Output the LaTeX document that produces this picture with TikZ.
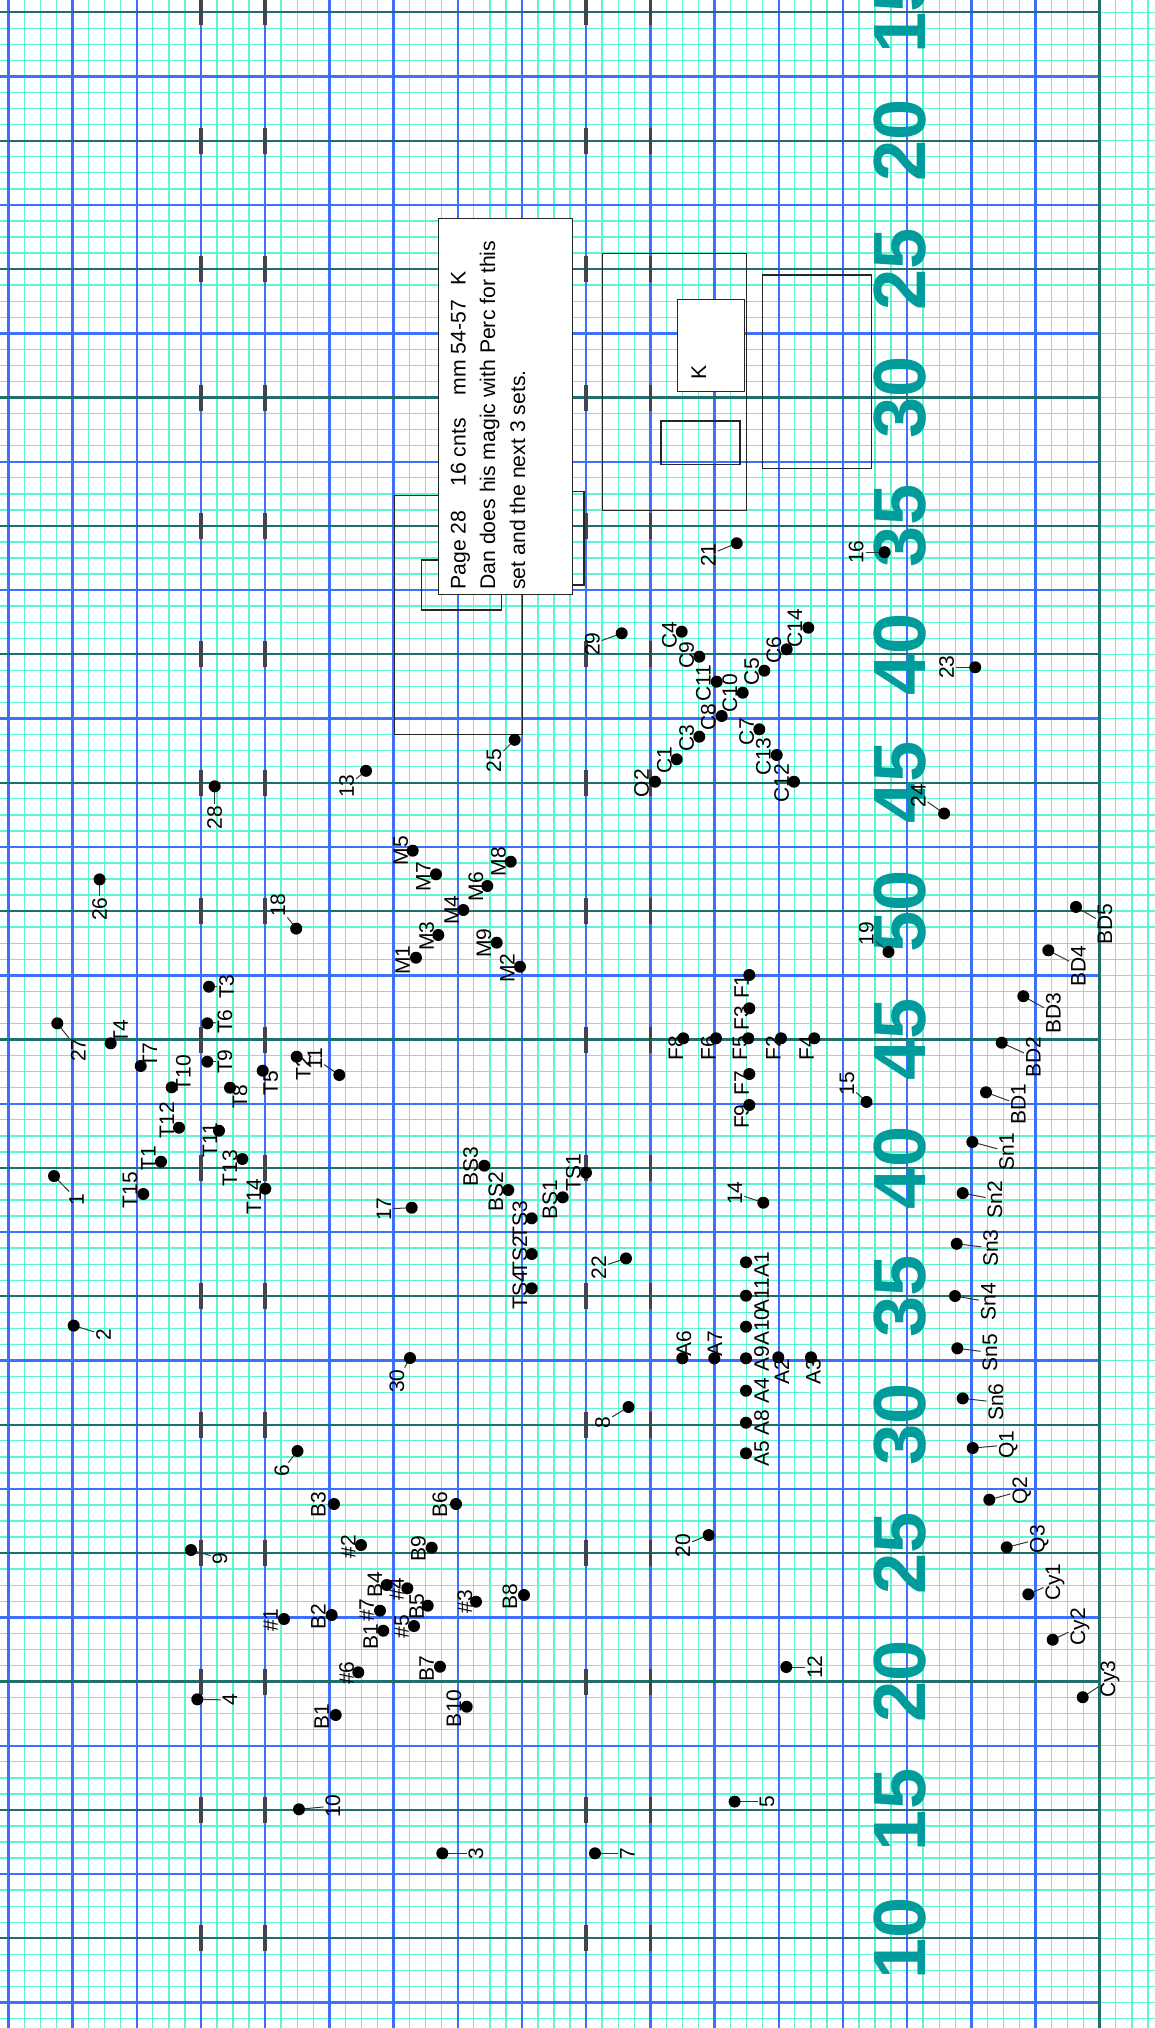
\documentclass[tikz,border=0pt]{standalone}
\usepackage{fontspec}
\setmainfont{Liberation Sans}
\definecolor{fineC}{HTML}{60F5D2}
\definecolor{blueC}{HTML}{3F6FFF}
\definecolor{tealC}{HTML}{1F6F6C}
\definecolor{tickC}{HTML}{40444C}
\definecolor{numC}{HTML}{009B9B}
\tikzset{
  fine/.style={draw=fineC, line width=0.7pt},
  blueline/.style={draw=blueC, line width=1.2pt},
  tealline/.style={draw=tealC, line width=1.1pt},
  tickmark/.style={draw=tickC, line width=1.7pt},
  bignum/.style={rotate=90, text=numC, font=\fontsize{37}{37}\selectfont\bfseries, inner sep=0pt},
  dot/.style={circle, fill=black, inner sep=0pt, minimum size=6pt},
  lab/.style={rotate=90, font=\fontsize{10.5}{12}\selectfont, inner sep=0.8pt},
  lead/.style={draw=black!80, line width=0.5pt},
  frame/.style={draw=black!85, line width=0.6pt},
  boxtext/.style={rotate=90, anchor=base west, font=\fontsize{10.6}{12}\selectfont, inner sep=0pt},
}
\begin{document}
\begin{tikzpicture}[x=0.5pt, y=-0.5pt]
\useasboundingbox (0,0) rectangle (1155,2028);
% fine grid
\foreach \i in {0,...,71} \draw[fine] ({8.3+16.05*\i},0) -- ({8.3+16.05*\i},2028);
\foreach \i in {0,...,125} \draw[fine] (0,{12.3+16.05*\i}) -- (1155,{12.3+16.05*\i});
% major grid
\foreach \k in {0,...,16} \draw[blueline] ({8.3+64.2*\k},0) -- ({8.3+64.2*\k},2028);
\foreach \j in {1,3,...,31} \draw[blueline] (0,{12.3+64.2*\j}) -- (1099.7,{12.3+64.2*\j});
\foreach \j in {0,2,...,30} \draw[tealline] (0,{12.3+64.2*\j}) -- (1099.7,{12.3+64.2*\j});
\draw[tealline, line width=1.3pt] (1099.7,0) -- (1099.7,2028);
% tick marks
\foreach \j in {0,2,...,30} \foreach \x in {200.9,265.1,586.1,650.3}
  \draw[tickmark] (\x,{12.3+64.2*\j-13}) -- (\x,{12.3+64.2*\j+13});
% big numbers
\foreach \m/\t in {0/15,1/20,2/25,3/30,4/35,5/40,6/45,7/50,8/45,9/40,10/35,11/30,12/25,13/20,14/15,15/10}
  \node[bignum] (num\m) at (900,{12.3+128.4*\m}) {\t};
% rectangles
\draw[frame] (394.5,495.3) rectangle (522.5,734.6);
\draw[frame] (421.7,560) rectangle (501.7,610);
\draw[frame] (500,491.7) rectangle (584,585);
\draw[frame] (602.7,253.3) rectangle (746.3,510.7);
\draw[frame] (661,421) rectangle (740,464.3);
\draw[frame] (762.7,275) rectangle (871.7,468.7);
\node[frame, fill=white, minimum width=33.2pt, minimum height=46.2pt, inner sep=0pt] (kbox) at (710.9,345.5) {};
\node[boxtext] (ktext) at (706,380) {K};
% text box
\node[frame, fill=white, minimum width=67pt, minimum height=188pt, inner sep=0pt] (tbox) at (505.3,406.3) {};
\node[boxtext] (tl1) at (465.7,590) {Page 28\hspace{12pt}16 cnts\hspace{11.5pt}mm 54-57\hspace{7pt}K};
\node[boxtext] (tl2) at (495,590) {Dan does his magic with Perc for this};
\node[boxtext] (tl3) at (525,590) {set and the next 3 sets.};
% points
\foreach \n/\dx/\dy/\lx/\ly/\t in {
 p1/54/1176/76.7/1199.3/1, p2/73.7/1325.6/103.5/1334.7/2, p3/442.3/1853.3/476/1853.3/3,
 p4/197.3/1699.3/230/1700/4, p5/734.6/1801.6/767/1801.6/5, p6/297.5/1451/282/1470.5/6,
 p7/595/1853.3/627.3/1853.3/7, p8/628.5/1407/602.7/1422.6/8, p9/191/1550/220/1558.3/9,
 p10/299/1809.3/333/1806/10, p11/339.3/1075/315/1058.3/11, p12/786.3/1667/814.8/1667/12,
 p13/366/770.8/346.6/786.3/13, p14/763.3/1202.7/735/1193.3/14, p15/866.5/1101.9/847/1083.8/15,
 p16/884.6/552.2/856.2/552.2/16, p17/411.7/1207.7/384/1209/17, p18/296.2/928.6/278/905.3/18,
 p19/888.5/951.9/866.5/933.8/19, p20/708.7/1535.1/682.8/1545.5/20, p21/736.7/543.3/708.3/555/21,
 p22/626/1258.4/598.8/1267.4/22, p23/975.2/667.3/946.7/667.3/23, p24/944.1/813.5/918.2/795.4/24,
 p25/514.7/739.8/494/760.5/25, p26/99.6/879.4/99.6/909.2/26, p27/57.3/1023.3/78.3/1050/27,
 p28/214.7/786.3/214.7/817.4/28, p29/621.7/633.3/592.3/644/29, p30/410/1358/397/1381.3/30,
 t1/161/1161.7/148.3/1158.3/T1, t2/296.7/1056.7/303.3/1068.3/T2, t3/209/986.7/226.7/986.7/T3,
 t4/110.7/1043.3/120.7/1031.7/T4, t5/262.7/1070.7/270.7/1083.3/T5, t6/207.3/1023.3/225/1021.7/T6,
 t7/140.7/1066/150/1055/T7, t8/230/1087.7/240/1096.7/T8, t9/207.3/1061.7/225/1061.7/T9,
 t10/171.7/1087.3/183.3/1073.3/T10, t11/219/1130.7/210/1140/T11, t12/179/1127.7/166.7/1120/T12,
 t13/242.3/1159/230/1168.3/T13, t14/265.3/1188.7/254/1196.7/T14, t15/143.3/1194/130/1190/T15,
 b3/334/1504/318.3/1505/B3, b6/456/1504/440/1505/B6, h2/361/1545/348.3/1546.7/\#2,
 b9/431.7/1547.7/418.3/1548.3/B9, b4/386.7/1585/375/1585/B4, h4/407.3/1588.3/396.7/1589.3/\#4,
 b8/524/1595/510/1596.7/B8, h3/476/1601.7/465/1601.7/\#3, b5/427.7/1605.7/416.7/1606.7/B5,
 h7/380/1610.7/366.7/1610/\#7, h1/284/1619/270.7/1620/\#1, b2/331.7/1615/318.3/1616.7/B2,
 h5/414/1626/401.7/1626.7/\#5, b1a/383.3/1630.7/370.7/1636.7/B1, b7/440/1666.7/426.7/1669/B7,
 h6/358.3/1672.3/346.7/1673.3/\#6, b1b/335.7/1715/321.7/1716.7/B1, b10/466.7/1706.7/454/1708.3/B10,
 m5/412.7/850.7/400.7/850.7/M5, m7/436/874.3/423.3/876.7/M7, m8/510.7/861.7/498.3/861.7/M8,
 m6/487.3/886/476/886.7/M6, m4/463.3/910/451.7/910/M4, m3/438.3/935/426.7/936/M3,
 m9/496.7/942.7/484/943.3/M9, m1/416/957.7/402.7/960/M1, m2/520/966.7/507.3/968.3/M2,
 bs3/484.3/1165.7/470.7/1166.7/BS3, bs2/508.3/1190/496/1191.7/BS2, ts1/586/1172.7/573.3/1172.7/TS1,
 bs1/562.7/1197.3/550/1200/BS1, ts3/531.7/1218.3/520/1220/TS3, ts2/531.7/1254/520/1255/TS2,
 ts4/531.7/1288.3/520/1290/TS4,
 c4/681.7/631.7/669.3/635/C4, c9/699.3/656.7/686.7/655/C9, c11/716.7/681.7/703.3/683.3/C11,
 c10/742.7/692.7/730/693.3/C10, c5/764.3/670.7/751.7/671.7/C5, c6/786.7/649.3/774/650/C6,
 c14/808.3/627.7/795/628.3/C14, c8/721.7/716/708.3/717.3/C8, c3/699.3/736.7/686.7/738.3/C3,
 c1/676.7/759.3/664.3/760/C1, o2/655/781.7/641.7/783.3/O2, c7/759.3/729.3/746.7/731.7/C7,
 c13/776.7/755/763.3/756.7/C13, c12/794/781.7/781.7/783.3/C12,
 f1/749.3/975/741.7/986.7/F1, f3/749.3/1008.3/741.7/1018.3/F3, f8/683.3/1038.3/676/1048.3/F8,
 f6/716/1038.3/708.3/1048.3/F6, f5/748.3/1038.3/740/1048.3/F5, f2/781/1038.3/773.3/1048.3/F2,
 f4/814.3/1038.3/806.7/1048.3/F4, f7/749.3/1074/741.7/1083.3/F7, f9/749.3/1105/741.7/1116.7/F9,
 a1/746/1262.3/761.7/1265/A1, a11/746/1295.7/761.7/1296/A11, a10/746/1326.7/761.7/1327/A10,
 a9/746/1358.3/761.7/1358.3/A9, a4/746/1390.7/761.7/1390.7/A4, a8/746/1422.7/761.7/1422.7/A8,
 a5/746/1453.3/761.7/1453.3/A5, a6/682.3/1358.3/684/1343.3/A6, a7/714.3/1358.3/715/1343.3/A7,
 a2/778.3/1357.3/781.7/1371.7/A2, a3/811/1357.3/813.3/1371.7/A3,
 bd5/1076/906.9/1105/924/BD5, bd4/1048.3/950.3/1078.3/966/BD4, bd3/1023.3/996.2/1053.3/1013/BD3,
 bd2/1001.7/1042.7/1033.3/1057.3/BD2, bd1/986/1092.3/1018.3/1104.3/BD1,
 sn1/972.3/1142/1006.7/1151.4/Sn1, sn2/962.7/1193.1/995/1199.4/Sn2, sn3/956.7/1243.8/990.7/1248/Sn3,
 sn4/955/1296/988.3/1301.8/Sn4, sn5/957.3/1348.3/990/1352.5/Sn5, sn6/962.7/1398.4/996/1402.1/Sn6,
 q1/972.7/1448/1008.3/1444.9/Q1, q2/989.3/1499.7/1021.7/1490.8/Q2, q3/1006.7/1547.3/1039.3/1539/Q3,
 cy1/1028.3/1594.3/1055/1582.3/Cy1, cy2/1052.7/1639.7/1080/1626.7/Cy2, cy3/1082.7/1697.2/1110/1679/Cy3}
{
  \coordinate (d\n) at (\dx,\dy);
  \node[lab] (l\n) at (\lx,\ly) {\t};
  \draw[lead] (d\n) -- (l\n);
  \node[dot] (dd\n) at (d\n) {};
}
\end{tikzpicture}
\end{document}
